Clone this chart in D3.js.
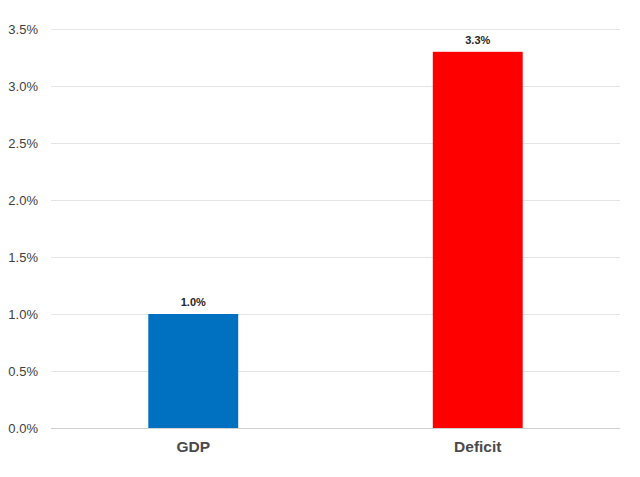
<!DOCTYPE html>
<html>
<head>
<meta charset="utf-8">
<script src="https://cdn.jsdelivr.net/npm/d3@7"></script>
<style>
  body { margin: 0; background: #fff; }
  svg text { font-family: "Liberation Sans", Arial, sans-serif; }
</style>
</head>
<body>
<svg id="chart" width="640" height="477"></svg>
<script>
// chart data
var categories = ["GDP", "Deficit"];
var values = [1.0, 3.3];
var barColors = ["#0070c0", "#ff0000"];
var yTicks = [0, 0.5, 1.0, 1.5, 2.0, 2.5, 3.0, 3.5];

var margin = {top: 29, right: 20, bottom: 49, left: 51};
var width = 640 - margin.left - margin.right;
var height = 477 - margin.top - margin.bottom;

var svg = d3.select("#chart");
var g = svg.append("g").attr("transform", "translate(" + margin.left + "," + margin.top + ")");

var x = d3.scaleBand().domain(categories).range([0, width]).paddingInner(0.684).paddingOuter(0.342);
var y = d3.scaleLinear().domain([0, 3.5]).range([height, 0]);

// gridlines
g.selectAll(".grid").data(yTicks).enter().append("line")
  .attr("x1", 0).attr("x2", width)
  .attr("y1", function(d) { return Math.round(y(d)) + 0.5; })
  .attr("y2", function(d) { return Math.round(y(d)) + 0.5; })
  .attr("stroke", function(d) { return d == 0 ? "#d0d0d0" : "#e4e4e4"; })
  .attr("stroke-width", 1);

// y axis labels
var yAxis = d3.axisLeft(y).tickValues(yTicks).tickSize(0).tickPadding(13)
  .tickFormat(function(d) { return d.toFixed(1) + "%"; });
var ya = g.append("g").call(yAxis);
ya.select(".domain").remove();
ya.selectAll("text").attr("fill", "#404040").style("font-size", "13px");

// x axis labels
var xAxis = d3.axisBottom(x).tickSize(0).tickPadding(13);
var xa = g.append("g").attr("transform", "translate(0," + height + ")").call(xAxis);
xa.select(".domain").remove();
xa.selectAll("text").attr("fill", "#4a4a4a").style("font-size", "15.5px").style("font-weight", "bold");

// bars
g.selectAll(".bar").data(values).enter().append("rect")
  .attr("x", function(d, i) { return x(categories[i]); })
  .attr("y", function(d) { return y(d); })
  .attr("width", x.bandwidth())
  .attr("height", function(d) { return height - y(d); })
  .attr("fill", function(d, i) { return barColors[i]; });

// value labels
g.selectAll(".val").data(values).enter().append("text")
  .attr("x", function(d, i) { return x(categories[i]) + x.bandwidth() / 2; })
  .attr("y", function(d) { return y(d) - 8; })
  .attr("text-anchor", "middle")
  .attr("fill", "#262626")
  .style("font-size", "11px")
  .style("font-weight", "bold")
  .text(function(d) { return d.toFixed(1) + "%"; });
</script>
</body>
</html>
